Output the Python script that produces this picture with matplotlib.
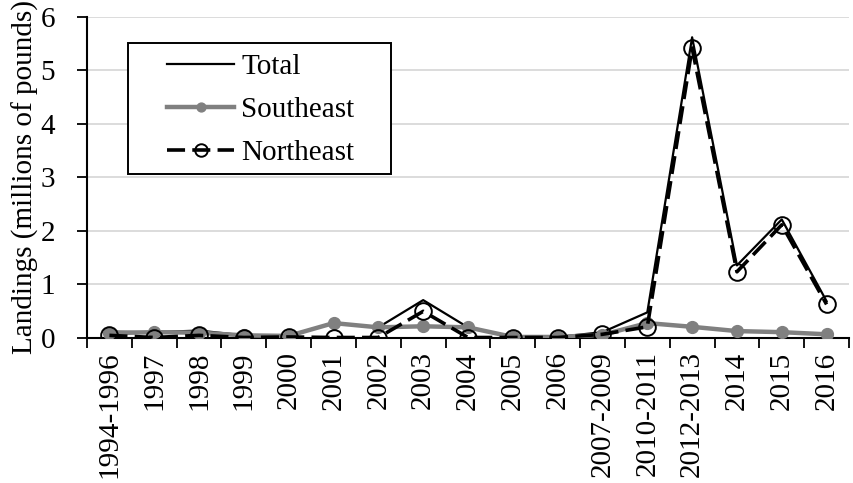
import matplotlib
matplotlib.use("Agg")
import matplotlib.pyplot as plt
from matplotlib.patches import Rectangle
import numpy as np

plt.rcParams['font.family'] = ['Liberation Serif', 'DejaVu Serif']

categories = ["1994-1996", "1997", "1998", "1999", "2000", "2001", "2002", "2003",
              "2004", "2005", "2006", "2007-2009", "2010-2011", "2012-2013",
              "2014", "2015", "2016"]
total = [0.11, 0.10, 0.13, 0.04, 0.04, 0.27, 0.19, 0.70, 0.19, 0.01, 0.01,
         0.10, 0.47, 5.62, 1.35, 2.21, 0.68]
southeast = [0.08, 0.10, 0.09, 0.04, 0.03, 0.27, 0.19, 0.21, 0.19, 0.01, 0.01,
             0.05, 0.27, 0.20, 0.12, 0.10, 0.06]
northeast = [0.04, 0.00, 0.04, 0.00, 0.01, 0.00, 0.00, 0.49, 0.00, 0.00, 0.00,
             0.06, 0.20, 5.42, 1.23, 2.11, 0.62]
yticks = [0, 1, 2, 3, 4, 5, 6]

FS = 21
W, H = 854, 483
fig = plt.figure(figsize=(W / 100, H / 100), dpi=100)
ax = fig.add_axes([87 / W, 1 - 337.5 / H, (849 - 87) / W, (337.5 - 17) / H])

x = np.arange(len(categories))
l1, = ax.plot(x, total, color='black', lw=1.6, zorder=3, label='Total')
l2, = ax.plot(x, southeast, color='#808080', lw=3.2, marker='o', ms=8.5,
              mfc='#808080', mec='#808080', zorder=4, label='Southeast')
l3, = ax.plot(x, northeast, color='black', lw=2.6, ls=(0, (5, 2)), marker='o', ms=12,
              mfc='none', mec='black', mew=1.4, zorder=5, label='Northeast')

ax.set_xlim(-0.5, len(categories) - 0.5)
ax.set_ylim(0, 6)
ax.set_yticks(yticks)
ax.set_yticklabels([str(v) for v in yticks], fontsize=FS)
ax.set_xticks(x)
ax.set_xticklabels(categories, rotation=90, fontsize=FS)
ax.set_xticks(np.arange(-0.5, len(categories), 1.0), minor=True)
ax.tick_params(axis='x', which='major', length=0, pad=10)
ax.tick_params(axis='x', which='minor', length=7, width=1.3, direction='out')
ax.tick_params(axis='y', which='major', length=7, width=1.3, direction='out', pad=16)

ax.yaxis.grid(True, color='#d9d9d9', lw=1.3, zorder=0)
ax.set_axisbelow(True)
for s in ['top', 'right']:
    ax.spines[s].set_visible(False)
for s in ['left', 'bottom']:
    ax.spines[s].set_linewidth(1.5)
    ax.spines[s].set_zorder(2)

ax.set_ylabel('Landings (millions of pounds)', fontsize=FS, labelpad=1)

fig.add_artist(Rectangle((128 / W, 1 - 174 / H), (391 - 128) / W, (174 - 43) / H,
                         transform=fig.transFigure, fill=True, facecolor='white',
                         edgecolor='black', lw=1.4, zorder=5))
leg = fig.legend(handles=[l1, l2, l3], loc='upper left',
                 bbox_to_anchor=(167 / W, 1 - 54 / H), bbox_transform=fig.transFigure,
                 frameon=False, fontsize=FS, handlelength=2.3, handletextpad=0.25,
                 labelspacing=0.57, borderpad=0, borderaxespad=0, markerscale=0.75)
leg.set_zorder(10)

fig.savefig('out.png', dpi=100)
